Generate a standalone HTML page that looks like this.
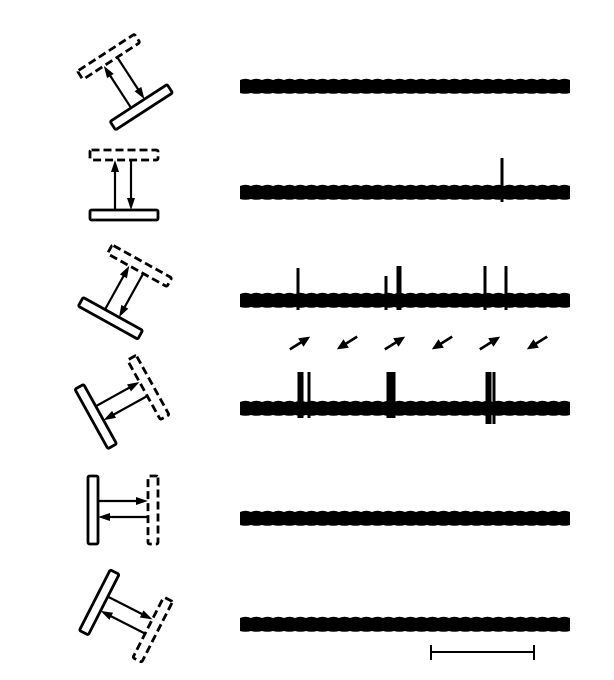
<!DOCTYPE html>
<html><head><meta charset="utf-8"><style>
html,body{margin:0;padding:0;background:#fff;}
svg{display:block;font-family:"Liberation Sans",sans-serif;}
</style></head><body>
<svg id="fig" width="614" height="680" viewBox="0 0 614 680" xmlns="http://www.w3.org/2000/svg">
<g id="stims"></g>
<g id="traces"></g>
<g id="dirs"></g>
<g stroke="#000" stroke-width="2">
<line x1="430" y1="652" x2="535" y2="652"/><line x1="431" y1="645" x2="431" y2="660"/><line x1="534" y1="645" x2="534" y2="660"/>
</g>
</svg>
<script>
const NS="http://www.w3.org/2000/svg";
// stimulus orientations (deg) and centres
const stimAngles=[-33,0,29,61,90,117];
const stimCx=[125,124,125,122,123,126];
const stimCy=[82,185,292,402,510,616];
// trace rows
const traceY=[86,192,300,408,518,624];
// spike x positions (px along trace)
const spikes0=[];
const spikes1=[502];
const spikes2=[298,386,398,400,485,506];
const spikes3=[299,302,309,388,391,394,487,490,494];
const spikes4=[];
const spikes5=[];
const spikeTop2=[268,276,266,266,266,266];
const allSpikes=[spikes0,spikes1,spikes2,spikes3,spikes4,spikes5];
const dirX=[300,347,395,442,490,537];
const dirSign=[1,-1,1,-1,1,-1];

function el(tag,attrs,parent){const e=document.createElementNS(NS,tag);for(const k in attrs)e.setAttribute(k,attrs[k]);parent.appendChild(e);return e;}
const stims=document.getElementById('stims');
stimAngles.forEach((a,i)=>{
  const g=el('g',{transform:`translate(${stimCx[i]},${stimCy[i]}) rotate(${a})`},stims);
  
  
  const d=30,L=68,H=10;
  el('rect',{x:-L/2,y:d-H/2,width:L,height:H,rx:1.5,fill:'none',stroke:'#000','stroke-width':2.8},g);
  el('rect',{x:-L/2,y:-d-H/2,width:L,height:H,rx:1.5,fill:'none',stroke:'#000','stroke-width':2.8,'stroke-dasharray':'8 4'},g);
  el('line',{x1:-9,y1:d-H/2,x2:-9,y2:-d+H/2+9,stroke:'#000','stroke-width':2.2},g);
  el('path',{d:`M-9 ${-d+H/2} L-13 ${-d+H/2+12} L-5 ${-d+H/2+12}Z`,fill:'#000'},g);
  el('line',{x1:7,y1:-d+H/2,x2:7,y2:d-H/2-9,stroke:'#000','stroke-width':2.2},g);
  el('path',{d:`M7 ${d-H/2} L3 ${d-H/2-12} L11 ${d-H/2-12}Z`,fill:'#000'},g);
});
const traces=document.getElementById('traces');
traceY.forEach((y,i)=>{
  const g=el('g',{},traces);
  
  
  let p=`M240 ${y-6}`;
  for(let x=240;x<570;x+=11){p+=` Q${x+5.5} ${y-8.5} ${x+11} ${y-6}`;}
  p+=` L570 ${y+7}`;
  for(let x=570;x>240;x-=11){p+=` Q${x-5.5} ${y+8.5} ${x-11} ${y+7}`;}
  p+='Z';
  el('path',{d:p,fill:'#000'},g);
  allSpikes[i].forEach((sx,j)=>{
    let top=y-34;
    if(i===2) top=spikeTop2[j];
    if(i===3) top=y-36;
    const s=el('rect',{x:sx-1.5,y:top,width:3,height:(y+(i===3&&sx>485?16:10))-top,fill:'#000'},g);
    
    
  });
});
const dirs=document.getElementById('dirs');
dirX.forEach((x,i)=>{
  const g=el('g',{transform:`translate(${x},343) rotate(${dirSign[i]>0?-32:148})`},dirs);
  
  
  el('line',{x1:-12,y1:0,x2:4,y2:0,stroke:'#000','stroke-width':2.6},g);
  el('path',{d:'M12 0 L1 -5 L1 5Z',fill:'#000'},g);
});
</script>
</body></html>
